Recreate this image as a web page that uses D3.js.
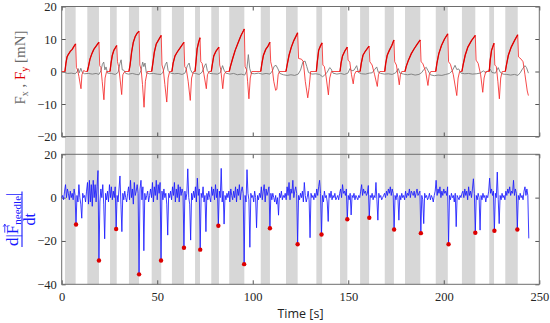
<!DOCTYPE html>
<html>
<head>
<meta charset="utf-8">
<script src="https://cdn.jsdelivr.net/npm/d3@7"></script>
<style>
  body { margin: 0; background: #fff; }
  svg { display: block; }
  .tick text { font-family: "Liberation Serif", "Times New Roman", serif; font-size: 12.5px; fill: #262626; }
  .tick line { stroke: #555; }
</style>
</head>
<body>
<div id="chart"></div>
<script>
// stimulation windows [s]
const bandStart = [1.7, 13.4, 25.3, 35.2, 47.1, 57.7, 69.8, 78.3, 87.7, 104.2, 117.4, 133.3, 145.7, 156.2, 169.1, 179.7, 195.8, 209.5, 223.8, 232.2];
const bandEnd   = [7.3, 19.5, 28.8, 40.5, 52.1, 64.0, 72.4, 82.3, 95.6, 109.0, 123.5, 136.3, 149.5, 160.9, 173.9, 187.7, 202.1, 216.5, 226.3, 238.7];

// Fy [mN] (red), [t, value]
const fy = [
  [0,0],[1.7,0],[2.2,2.5],[2.8,4.5],[3.5,5.3],[4.5,6.2],[5.5,6.8],[6.5,7.8],[7.3,8.5],[7.7,1.2],[8.3,0.5],[9,-1.5],[10.1,-5.3],[10.6,-1],[11.5,0.3],[12.5,0],
  [13.4,0],[14,1.5],[14.8,3.8],[15.8,5.5],[16.8,6.8],[18,7.8],[19.5,9.0],[19.9,1.8],[20.5,1.2],[21.2,-3],[22.1,-8.7],[22.7,-2],[23.5,0],
  [25.3,0],[25.8,2.5],[26.5,5],[27.3,6.5],[28.8,8.0],[29.2,3],[29.8,1.5],[30.5,-2],[31.4,-7.1],[32,-1],[33,0],
  [35.2,0],[35.8,2],[36.6,6],[37.5,9],[38.5,10.8],[39.5,11.8],[40.5,12.4],[40.9,2],[41.6,0.5],[42.3,-4],[43.1,-11],[43.8,-3],[44.8,0],
  [47.1,0],[47.7,2.5],[48.5,6],[49.5,8.5],[50.8,9.8],[52.1,11.1],[52.5,2],[53.2,0.5],[54,-4],[55,-9.4],[55.7,-2],[56.5,0],
  [57.7,0],[58.3,2.5],[59.3,4.8],[60.5,6],[62,7.3],[64,9.0],[64.4,1.5],[65.2,0.8],[66.2,-3],[67.3,-8.9],[68,-2],[69,0],
  [69.8,0],[70.3,3],[70.9,7],[71.6,8.8],[72.4,10.4],[72.8,3],[73.5,2.5],[74.5,-1],[75.7,-5.3],[76.3,-1],[77.2,0],
  [78.3,0],[78.8,2],[79.6,4.8],[80.8,6.3],[82.3,7.5],[82.7,2],[83.3,0.5],[84.3,-5.3],[85,-1],[86,0],
  [87.7,0],[88.3,1.5],[89.5,4],[90.8,6.5],[92.3,8.8],[93.8,11],[95.6,13.1],[96,1.5],[96.8,0.5],[97.3,-3],[98,-8.4],[98.7,-2],[99.5,0],
  [104.2,0],[104.8,2.5],[105.6,5],[106.8,6.8],[108,7.8],[109,9.0],[109.4,3],[110.2,1],[111,-3],[112,-5.8],[112.6,-5.5],[113.3,-1],[114,0],
  [117.4,0],[118,2],[119,5],[120.2,7.5],[121.5,9.5],[122.6,10.8],[123.5,11.9],[124,4],[125.5,3.8],[126.5,3],[127.5,-3],[128.8,-8.1],[129.5,-5],[130.3,0],
  [133.3,0],[133.8,3],[134.5,6.5],[135.4,7.8],[136.3,8.8],[136.7,2],[137.5,1.5],[138.5,-2],[139.6,-7.2],[140.3,-2],[141.2,0],
  [145.7,0],[146.2,2.5],[147,4.8],[148.2,6.3],[149.5,7.5],[149.9,3.5],[150.8,2.9],[151.7,-1],[152.6,-3.8],[153.2,-1],[154,0],
  [156.2,0],[156.8,2.5],[157.7,5],[159,6.3],[160.9,7.8],[161.3,3],[162.5,2],[163.8,-1],[165.2,-4.6],[165.8,-1],[166.5,0],
  [169.1,0],[169.6,2.5],[170.4,5],[171.5,6.5],[172.8,8],[173.9,9.7],[174.3,3],[175.2,2],[176,-1],[176.7,-4.1],[177.3,-1],[178,0],
  [179.7,0],[180.3,1.5],[181.5,3.5],[183,5.5],[184.5,7],[186.2,8.5],[187.7,9.7],[188.1,3],[189,2.5],[190.5,0],[191.7,-4.3],[192.4,-1],[193.2,0],
  [195.8,0],[196.4,2.5],[197.4,5.5],[198.8,8],[200.4,10],[202.1,11.6],[202.5,3],[203.5,2.2],[205,-1],[206.8,-7.4],[207.5,-2],[208.3,0],
  [209.5,0],[210.1,2],[211.2,5],[212.6,7.5],[214.5,9.5],[216.5,11.1],[216.9,3.5],[218,2.5],[219.3,-1],[220.4,-6.4],[221.1,-2],[222,0],
  [223.8,0],[224.3,3.5],[225,6.5],[225.6,7.5],[226.3,8.7],[226.7,2],[227.5,1.5],[228.3,-3],[229.1,-8.4],[229.8,-2],[230.6,0],
  [232.2,0],[232.8,2],[233.8,5],[235.3,7.5],[237,9.5],[238.7,11.3],[239.1,4.5],[240.5,3.8],[241.5,3],[242.5,-1],[243.7,-6],[244.3,-7.4]
];

// Fx [mN] (grey), [t, value]
const fx = [
  [0,0],[1.5,-0.3],[3,-0.6],[5,-0.5],[7,-0.7],[8,-0.2],[8.6,0.9],[9.2,-0.4],[10,1.0],[10.8,-0.3],[12,-0.7],[14,-0.6],[16,-0.8],[18,-0.6],[19.5,-0.9],
  [20.5,0.2],[21.3,2.2],[22,2.9],[22.6,0.5],[23.2,1.4],[24,-0.5],[26,-0.6],[28,-0.9],[29.5,-0.3],[30.5,2.5],[31.1,3.6],[31.7,0.5],[32.5,0.4],[33.5,-0.6],
  [35,-0.8],[37,-0.6],[39,-0.9],[40.5,-1.0],[41.5,0.3],[42.4,2.9],[43,1.5],[43.6,2.6],[44.3,-0.4],[46,-0.7],[48,-0.6],[50,-0.8],[52,-0.9],[53,-0.2],
  [54.3,2.2],[55,2.9],[55.7,0.3],[57,-0.5],[59,-0.7],[61,-0.6],[63,-0.9],[64.5,-0.5],[65.8,1.8],[66.7,2.6],[67.4,0.6],[68.3,-0.4],[70,-0.6],[72,-0.9],
  [73.5,-0.2],[74.8,1.8],[75.5,2.4],[76.2,0.3],[77.5,-0.6],[79.5,-0.7],[81.5,-0.8],[83,-0.4],[84.2,1.8],[85,0.4],[86,-0.5],[88,-0.8],[90,-0.6],[92,-1.0],
  [94,-0.8],[95.8,-1.1],[96.8,0.2],[97.7,5.2],[98.4,1.0],[99.2,-0.6],[101,-0.7],[103,-0.5],[105,-0.8],[107,-0.6],[109,-0.8],[110.3,0.2],[111.2,1.6],
  [112.2,1.9],[113.2,0.8],[114.2,-0.6],[116,-1.0],[118,-1.2],[120,-1.0],[122,-1.2],[123.8,-0.8],[125,0.4],[126.3,3.0],[127.4,3.2],[128.3,1.5],[129.2,-0.3],
  [131,-0.8],[133,-0.7],[135,-0.9],[136.5,-1.6],[137.5,-1.2],[139,-0.2],[140.3,1.2],[141,0.8],[142,-0.5],[144,-0.8],[146,-0.6],[148,-0.9],[149.8,-0.5],
  [150.9,0.9],[151.8,0.2],[153,0.4],[154.4,1.8],[155.3,-0.3],[157,-0.7],[159,-0.8],[161,-0.5],[162.5,-0.4],[163.8,0.6],[164.9,1.4],[165.7,-0.2],[167,-0.6],
  [169,-0.8],[171,-0.7],[173,-0.9],[174.8,-0.4],[176.2,0.9],[177,-0.5],[179,-0.8],[181,-1.0],[183,-0.8],[185,-1.1],[187,-0.9],[188.5,-0.3],[189.5,0.6],
  [190.8,1.3],[191.8,0.2],[193,-1.0],[195,-1.3],[197,-1.1],[199,-1.2],[201,-0.9],[203,-0.6],[204.5,0.3],[205.9,1.9],[206.8,0.6],[207.8,0.8],[209,-0.5],
  [211,-0.7],[213,-0.6],[215,-0.8],[217,-0.7],[219,-0.5],[220.7,0.2],[222,-0.4],[224.2,0.8],[225.2,-0.3],[227,-0.5],[228.5,1.2],[229.5,-0.2],[231,-0.8],
  [233,-0.9],[235,-1.1],[237,-0.9],[238.8,-1.2],[240,-0.4],[241.2,0.8],[242.5,1.8],[243.3,1.2],[244.3,-0.5]
];

// d|F_needle|/dt, one sample every 0.5 s from t = 0
const dtStep = 0.5;
const dFdt = [
  0,1,-1,3,6,0,4,2,-1,3,0,2,-1,4,1,-12.4,1,-2,6,0,
  -3,-9.5,2,0,1,-2,3,7,-3,8,-2,6,-4,8,0,6,-2,5,12.5,-29,
  -2,4,0,6,-3,-19,2,-1,3,-2,6,0,5,-1,3,0,5,-14.5,1,-2,
  4,10,-3,-15.7,2,-1,3,0,-2,2,5,-1,8,0,4,-3,7,1,3,6,
  2,-35.4,4,8,-1,5,-24.5,2,-1,1,3,-2,1,4,0,7,-2,5,1,8,
  -1,6,2,7,-29,3,-1,4,0,2,-3,-17.3,2,0,3,-1,5,1,7,-2,
  4,0,6,-2,5,1,4,2,-23.1,3,-1,2,13.3,0,-3,-19.6,2,-1,3,0,
  5,-2,9,1,4,-24,2,0,5,-2,1,-15.7,2,-1,3,0,-2,5,1,4,
  -1,6,0,4,-13,3,0,13.5,-2,3,-12.2,1,-1,2,0,3,-2,4,1,-1,
  3,0,5,-2,4,1,6,-1,3,5,2,-30.7,1,-2,12.9,2,-1,-22.9,2,0,
  1,-2,3,0,-13.9,1,-1,2,0,5,-1,3,6,-2,4,1,3,5,-14.1,2,
  -1,2,0,-2,1,-3,0,-8.1,2,0,3,-1,1,0,2,-1,5,1,7,-1,
  4,2,8,0,3,5,2,-21.5,1,-1,2,0,3,-2,7,1,-2,0,3,-1,
  -18.5,2,0,1,-1,2,0,4,1,5,8,2,-17,1,-2,3,0,1,-2,-11,
  2,0,3,-1,1,0,2,-1,0,1,-1,2,4,0,6,2,3,1,4,-10,
  1,-1,2,-8,1,0,2,-1,1,0,-1,1,0,3,6,1,4,2,3,1,
  2,5.6,-9.3,1,0,2,-1,1,0,7,-1,-10.4,2,0,1,-1,0,1,2,0,
  3,1,4,2,5,1,4,2,-14.7,1,-1,2,0,-10.4,1,-1,2,0,1,-1,
  3,0,2,1,4,0,3,2,1,3,0,2,4,1,2,3,-16.4,1,-1,-12,
  2,0,1,-1,0,2,-1,1,0,-2,1,3,8,1,4,2,5,0,3,1,
  4,2,3,1,5,-21.5,1,-1,2,0,1,-2,2,-13.4,1,0,-1,1,0,2,
  3,0,4,1,3,-1,5,1,3,0,4,8.7,2,-16.2,1,-1,2,0,-15,1,
  -1,2,0,1,-2,1,0,3,9,2,4,1,3,-15.3,2,0,11.8,-1,-12,1,
  -1,2,0,1,-1,3,1,4,2,5,1,3,2,8,1,4,2,-14.7,1,-1,
  2,0,1,-1,3,5,1,4,1,-18.8
];

// marked minima of the derivative
const peakT = [7.5, 19.5, 28.5, 40.5, 52, 64, 72.5, 82, 95.5, 109, 123.5, 136, 149.5, 161, 174, 188, 202.5, 216.5, 226.5, 238.5];
const peakV = [-12.4, -29, -14.5, -35.4, -29, -23.1, -24, -13, -30.7, -14.1, -21.5, -17, -10, -9.3, -14.7, -16.4, -21.5, -16.2, -15.3, -14.7];

const xTicks = [0, 50, 100, 150, 200, 250];
const topTicks = [-20, -10, 0, 10, 20];
const botTicks = [-40, -20, 0, 20];

const width = 550, height = 323;
const left = 61.7, right = 539.3;
const topY = [6.5, 136.5], botY = [154.3, 284.3];

const x = d3.scaleLinear().domain([0, 250]).range([left, right]);
const yTop = d3.scaleLinear().domain([-20, 20]).range([topY[1], topY[0]]);
const yBot = d3.scaleLinear().domain([-40, 20]).range([botY[1], botY[0]]);

const svg = d3.select("#chart").append("svg")
    .attr("width", width)
    .attr("height", height);

// grey bands across both panels
svg.append("g").selectAll("rect")
  .data(bandStart)
  .enter().append("rect")
    .attr("x", (d) => x(d))
    .attr("width", (d, i) => x(bandEnd[i]) - x(d))
    .attr("y", topY[0])
    .attr("height", botY[1] - topY[0])
    .attr("fill", "#d7d7d7");

function frame(y, ticks, showX) {
  const g = svg.append("g");
  const y0 = y.range()[0], y1 = y.range()[1];
  g.append("g").attr("transform", `translate(${left},0)`)
    .call(d3.axisLeft(y).tickValues(ticks).tickSizeInner(-4).tickSizeOuter(0).tickPadding(5));
  g.append("g").attr("transform", `translate(${right},0)`)
    .call(d3.axisRight(y).tickValues(ticks).tickSizeInner(-4).tickSizeOuter(0).tickFormat(""));
  g.append("g").attr("transform", `translate(0,${y1})`)
    .call(d3.axisTop(x).tickValues(xTicks).tickSizeInner(-4).tickSizeOuter(0).tickFormat(""));
  const xb = d3.axisBottom(x).tickValues(xTicks).tickSizeInner(-4).tickSizeOuter(0).tickPadding(8);
  if (!showX) xb.tickFormat("");
  g.append("g").attr("transform", `translate(0,${y0})`).call(xb);
  g.selectAll(".domain").remove();
  g.append("rect")
    .attr("x", left).attr("y", y1)
    .attr("width", right - left).attr("height", y0 - y1)
    .attr("fill", "none").attr("stroke", "#6e6e6e").attr("stroke-width", 1);
}
frame(yTop, topTicks, false);
frame(yBot, botTicks, true);

// top panel lines
const lineTop = d3.line().x((d) => x(d[0])).y((d) => yTop(d[1]));
svg.append("path").datum(fx)
    .attr("d", lineTop)
    .attr("fill", "none").attr("stroke", "#7a7a7a").attr("stroke-width", 0.9);
svg.append("path").datum(fy)
    .attr("d", lineTop)
    .attr("fill", "none").attr("stroke", "#f42a2a").attr("stroke-width", 0.85);
// rising parts inside the bands look heavier
svg.append("g").selectAll("path")
  .data(bandStart.map((s, i) => fy.filter((p) => p[0] >= s && p[0] <= bandEnd[i])))
  .enter().append("path")
    .attr("d", lineTop)
    .attr("fill", "none").attr("stroke", "#e00000").attr("stroke-width", 1.3);

// bottom panel
const lineBot = d3.line().x((d, i) => x(i * dtStep)).y((d) => yBot(d));
svg.append("path").datum(dFdt)
    .attr("d", lineBot)
    .attr("fill", "none").attr("stroke", "#1a1aff").attr("stroke-width", 0.85);
svg.append("g").selectAll("circle")
  .data(peakT)
  .enter().append("circle")
    .attr("cx", (d) => x(d))
    .attr("cy", (d, i) => yBot(peakV[i]))
    .attr("r", 2.2)
    .attr("fill", "#dd0000");

// axis titles
svg.append("text")
    .attr("x", (left + right) / 2).attr("y", 318)
    .attr("text-anchor", "middle")
    .attr("font-family", "'Open Sans', sans-serif").attr("font-size", 12.5)
    .attr("fill", "#222")
    .text("Time [s]");

const yl = svg.append("text")
    .attr("transform", `translate(25,${(topY[0] + topY[1]) / 2 - 4}) rotate(-90)`)
    .attr("text-anchor", "middle")
    .attr("font-family", "'Liberation Serif', serif").attr("font-size", 15)
    .attr("fill", "#6a6a6a");
yl.append("tspan").text("F");
yl.append("tspan").attr("font-size", 10).attr("dy", 3).text("x");
yl.append("tspan").attr("dy", -3).text(" , ");
yl.append("tspan").attr("fill", "#e00000").text("F");
yl.append("tspan").attr("fill", "#e00000").attr("font-size", 10).attr("dy", 3).text("y");
yl.append("tspan").attr("dy", -3).text(" [mN]");

const fr = svg.append("g")
    .attr("transform", `translate(22,${(botY[0] + botY[1]) / 2}) rotate(-90)`)
    .attr("fill", "#1a1aff")
    .attr("font-family", "'Liberation Serif', serif");
const num = fr.append("text").attr("y", -4).attr("text-anchor", "middle").attr("font-size", 17);
num.append("tspan").text("d|F");
num.append("tspan").attr("font-size", 11).attr("dy", 2.5).text("needle");
num.append("tspan").attr("dy", -2.5).text("|");
const fBox = num.node().getExtentOfChar(2);
const ay = -4 - 0.66 * 17 - 2;
const ax0 = fBox.x + 1.5, ax1 = fBox.x + fBox.width + 0.5;
fr.append("path")
    .attr("d", `M${ax0},${ay}H${ax1}M${ax1 - 2.5},${ay - 1.6}L${ax1},${ay}L${ax1 - 2.5},${ay + 1.6}`)
    .attr("fill", "none").attr("stroke", "#1a1aff").attr("stroke-width", 0.8);
const nb = num.node().getBBox();
fr.append("line")
    .attr("x1", nb.x - 1).attr("x2", nb.x + nb.width + 1)
    .attr("y1", 0).attr("y2", 0)
    .attr("stroke", "#1a1aff").attr("stroke-width", 1.1);
fr.append("text").attr("y", 13).attr("text-anchor", "middle").attr("font-size", 16).text("dt");
</script>
</body>
</html>
